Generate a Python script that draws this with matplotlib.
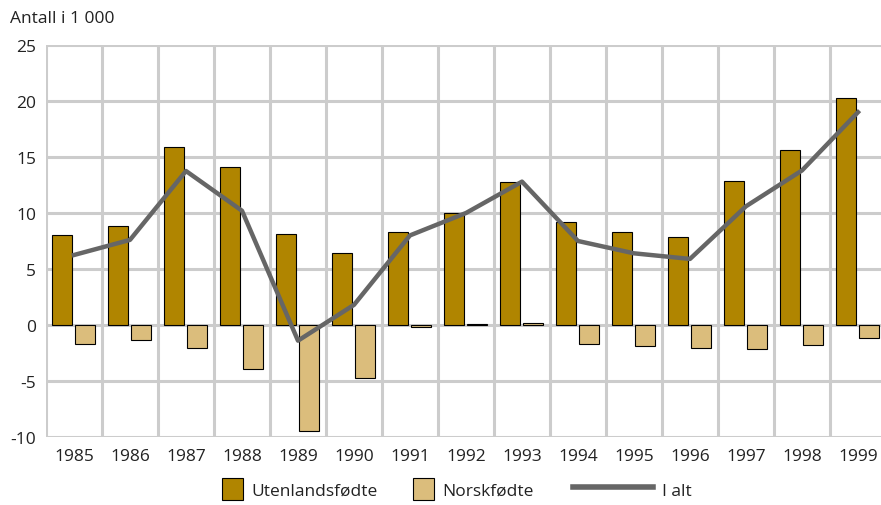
import numpy as np
import matplotlib
matplotlib.use("Agg")
import matplotlib.pyplot as plt
from matplotlib.patches import Patch
from matplotlib.lines import Line2D

plt.rcParams['font.family'] = ['Open Sans', 'DejaVu Sans']
plt.rcParams['axes.unicode_minus'] = False

years = ['1985', '1986', '1987', '1988', '1989', '1990', '1991', '1992',
         '1993', '1994', '1995', '1996', '1997', '1998', '1999']
utenlandsfodte = [8.0, 8.8, 15.9, 14.1, 8.1, 6.4, 8.3, 10.0, 12.8, 9.2, 8.3, 7.9, 12.9, 15.6, 20.3]
norskfodte = [-1.7, -1.35, -2.05, -3.9, -9.5, -4.7, -0.2, 0.05, 0.15, -1.7, -1.9, -2.05, -2.15, -1.8, -1.2]
i_alt = [6.25, 7.6, 13.75, 10.2, -1.4, 1.8, 8.0, 10.0, 12.8, 7.5, 6.4, 5.9, 10.6, 13.8, 19.0]

gold = '#B08500'
sand = '#DBBD7C'
grey = '#666666'
fs = 12.5

fig = plt.figure(figsize=(8.81, 5.06), dpi=100)
ax = fig.add_axes([46 / 881, 68 / 506, 840 / 881, 392 / 506])

x = np.arange(len(years))
w = 0.36
ax.bar(x - 0.215, utenlandsfodte, w, color=gold, edgecolor='black', linewidth=0.8, zorder=3)
ax.bar(x + 0.195, norskfodte, w, color=sand, edgecolor='black', linewidth=0.8, zorder=3)
ax.plot(x, i_alt, color=grey, linewidth=3.2, zorder=4)

ax.set_xlim(-0.5, len(years) - 0.5)
ax.set_ylim(-10, 25)
ax.set_yticks(range(-10, 26, 5))
ax.set_xticks(x)
ax.set_xticklabels(years)
ax.set_xticks(np.arange(-0.5, len(years), 1), minor=True)
ax.grid(True, axis='y', color='#CCCCCC', linewidth=2.2, zorder=0)
ax.grid(True, axis='x', which='minor', color='#CCCCCC', linewidth=2.2, zorder=0)
ax.grid(False, axis='x', which='major')
ax.tick_params(axis='both', which='both', length=0, labelsize=fs, colors='#222222')
ax.tick_params(axis='x', pad=8)
ax.tick_params(axis='y', pad=7)
for s in ax.spines.values():
    s.set_visible(False)

fig.text(10 / 881, 1 - 19 / 506, 'Antall i 1 000', fontsize=fs, color='#222222', va='center')

# legend: three single entries placed along the bottom
entries = [
    (Patch(facecolor=gold, edgecolor='black', linewidth=0.8), 'Utenlandsfødte', 222, 1.2),
    (Patch(facecolor=sand, edgecolor='black', linewidth=0.8), 'Norskfødte', 413, 1.2),
    (Line2D([], [], color=grey, linewidth=4), 'I alt', 573, 4.6),
]
for handle, label, px, hl in entries:
    leg = fig.legend([handle], [label], loc='center left', bbox_to_anchor=(px / 881, 16 / 506),
                     frameon=False, fontsize=fs, handlelength=hl, handleheight=1.5,
                     handletextpad=0.5, borderpad=0, borderaxespad=0)
    for t in leg.get_texts():
        t.set_color('#222222')

fig.savefig('out.png', dpi=100)
